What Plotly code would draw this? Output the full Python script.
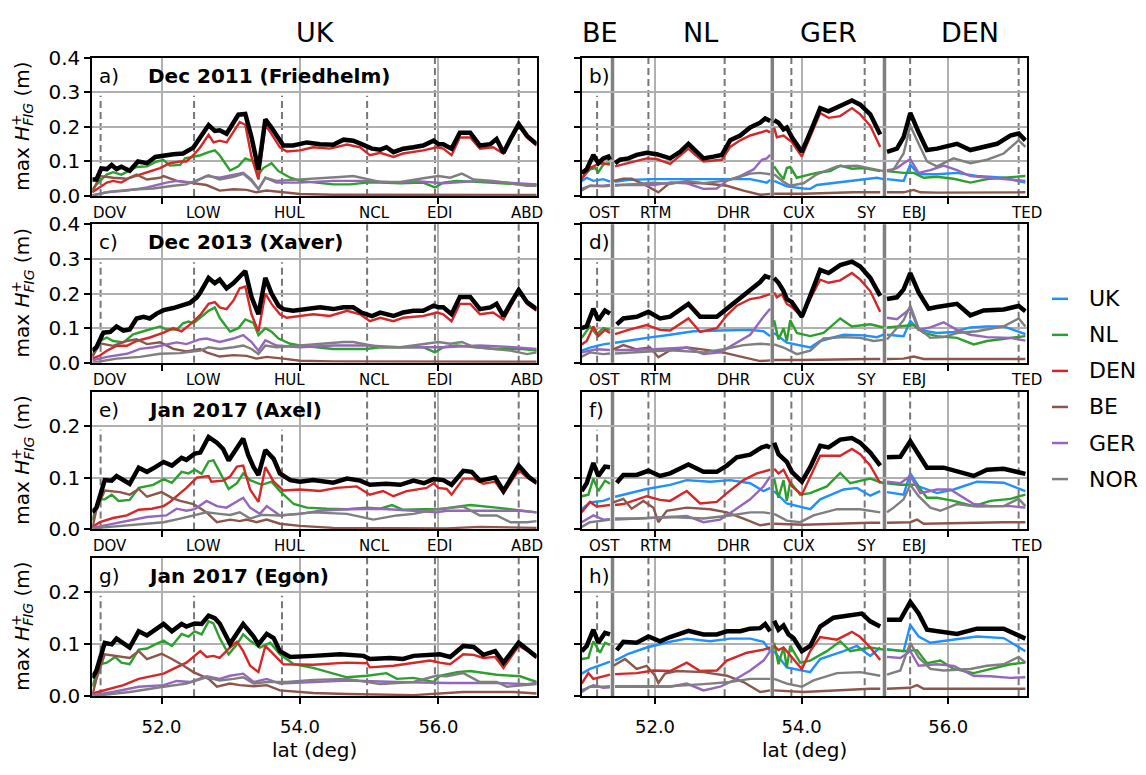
import plotly.graph_objects as go

W, H = 1146, 775

# ---------------------------------------------------------------- styling
COLORS = {
    "UK": "#1e90ff", "NL": "#2ca02c", "DEN": "#d62728",
    "BE": "#8c564b", "GER": "#9467bd", "NOR": "#7f7f7f",
}
LEGEND_ORDER = ["UK", "NL", "DEN", "BE", "GER", "NOR"]
FONT = "DejaVu Sans"

# ---------------------------------------------------------------- stations / regions
UK_STATIONS = ["DOV", "LOW", "HUL", "NCL", "EDI", "ABD"]
UK_STATION_LAT = [51.12, 52.47, 53.74, 54.97, 55.95, 57.16]
EU_STATIONS = ["OST", "RTM", "DHR", "CUX", "SY", "EBJ", "TED"]
EU_STATION_LAT = [51.21, 51.91, 52.95, 53.86, 54.86, 55.48, 56.96]
REGION_BOUNDS = [51.42, 53.60, 55.13]

X_TICKS = [52.0, 54.0, 56.0]
Y_TICKS_TALL = [0.0, 0.1, 0.2, 0.3, 0.4]
Y_TICKS_SHORT = [0.0, 0.1, 0.2]

# ---------------------------------------------------------------- a) Dec 2011, UK coast
A_TOTAL = [(51.00, 0.048), (51.06, 0.048), (51.13, 0.080), (51.21, 0.078), (51.28, 0.090), (51.35, 0.078),
           (51.42, 0.085), (51.54, 0.073), (51.66, 0.100), (51.79, 0.095), (51.91, 0.113), (52.03, 0.118),
           (52.17, 0.121), (52.31, 0.123), (52.46, 0.140), (52.56, 0.170), (52.68, 0.205), (52.77, 0.188),
           (52.84, 0.190), (52.94, 0.180), (53.04, 0.210), (53.11, 0.235), (53.21, 0.237), (53.30, 0.170),
           (53.40, 0.076), (53.50, 0.222), (53.59, 0.197), (53.69, 0.165), (53.76, 0.146), (53.90, 0.146),
           (54.10, 0.155), (54.29, 0.150), (54.48, 0.148), (54.63, 0.163), (54.77, 0.160), (54.89, 0.150),
           (55.04, 0.137), (55.16, 0.134), (55.25, 0.141), (55.35, 0.127), (55.49, 0.137), (55.64, 0.141),
           (55.78, 0.146), (55.93, 0.160), (56.00, 0.150), (56.07, 0.150), (56.19, 0.137), (56.31, 0.183),
           (56.46, 0.183), (56.60, 0.146), (56.75, 0.150), (56.84, 0.165), (56.94, 0.125), (57.04, 0.165),
           (57.16, 0.208), (57.28, 0.174), (57.42, 0.150)]
A_DEN = [(51.00, 0.011), (51.11, 0.025), (51.21, 0.039), (51.30, 0.044), (51.42, 0.039), (51.54, 0.053),
         (51.69, 0.062), (51.83, 0.072), (51.98, 0.081), (52.12, 0.095), (52.27, 0.100), (52.36, 0.100),
         (52.46, 0.118), (52.56, 0.141), (52.68, 0.177), (52.75, 0.155), (52.84, 0.160), (52.94, 0.155),
         (53.04, 0.188), (53.13, 0.214), (53.21, 0.206), (53.30, 0.113), (53.40, 0.048), (53.50, 0.206),
         (53.59, 0.179), (53.71, 0.141), (53.81, 0.129), (54.00, 0.132), (54.19, 0.141), (54.43, 0.137),
         (54.68, 0.149), (54.87, 0.141), (55.01, 0.118), (55.16, 0.125), (55.35, 0.113), (55.49, 0.123),
         (55.78, 0.132), (55.98, 0.141), (56.07, 0.137), (56.19, 0.118), (56.31, 0.169), (56.46, 0.169),
         (56.60, 0.137), (56.79, 0.141), (56.94, 0.123), (57.16, 0.202), (57.28, 0.169), (57.42, 0.146)]
A_NL = [(51.00, 0.020), (51.11, 0.044), (51.21, 0.062), (51.30, 0.069), (51.42, 0.062), (51.54, 0.074),
        (51.64, 0.084), (51.79, 0.086), (51.93, 0.100), (52.03, 0.104), (52.12, 0.088), (52.27, 0.090),
        (52.34, 0.109), (52.44, 0.113), (52.56, 0.118), (52.68, 0.127), (52.77, 0.132), (52.84, 0.118),
        (52.99, 0.074), (53.11, 0.086), (53.21, 0.109), (53.33, 0.100), (53.40, 0.062), (53.47, 0.081),
        (53.59, 0.095), (53.69, 0.072), (53.86, 0.053), (54.00, 0.044), (54.24, 0.039), (54.48, 0.034),
        (54.72, 0.034), (54.96, 0.039), (55.16, 0.039), (55.45, 0.037), (55.78, 0.039), (55.95, 0.025),
        (56.07, 0.039), (56.26, 0.044), (56.55, 0.041), (56.84, 0.037), (57.18, 0.034), (57.42, 0.034)]
A_GER = [(51.00, 0.002), (51.21, 0.011), (51.50, 0.016), (51.79, 0.025), (52.07, 0.039), (52.22, 0.044),
         (52.46, 0.039), (52.65, 0.058), (52.84, 0.053), (53.04, 0.060), (53.18, 0.067), (53.30, 0.048),
         (53.40, 0.020), (53.50, 0.053), (53.66, 0.039), (54.00, 0.039), (54.48, 0.044), (54.96, 0.044),
         (55.45, 0.039), (55.64, 0.044), (56.07, 0.037), (56.60, 0.044), (57.08, 0.037), (57.42, 0.034)]
A_NOR = [(51.00, 0.002), (51.26, 0.013), (51.59, 0.019), (51.88, 0.022), (52.17, 0.030), (52.36, 0.034),
         (52.56, 0.050), (52.68, 0.060), (52.84, 0.048), (53.04, 0.056), (53.18, 0.064), (53.30, 0.044),
         (53.40, 0.020), (53.50, 0.053), (53.66, 0.044), (54.00, 0.048), (54.29, 0.050), (54.63, 0.056),
         (54.77, 0.058), (55.01, 0.048), (55.16, 0.041), (55.45, 0.041), (55.64, 0.048), (55.83, 0.053),
         (56.00, 0.058), (56.17, 0.053), (56.34, 0.065), (56.51, 0.048), (56.79, 0.044), (57.04, 0.037),
         (57.28, 0.030), (57.42, 0.030)]
A_BE = [(51.00, 0.011), (51.11, 0.058), (51.30, 0.053), (51.50, 0.050), (51.64, 0.062), (51.79, 0.048),
        (51.98, 0.053), (52.03, 0.058), (52.22, 0.044), (52.46, 0.037), (52.65, 0.032), (52.84, 0.016),
        (53.04, 0.020), (53.23, 0.018), (53.37, 0.011), (53.52, 0.016), (53.76, 0.011), (54.00, 0.006),
        (54.48, 0.004), (55.45, 0.003), (57.42, 0.003)]

# ---------------------------------------------------------------- c) Dec 2013, UK coast
C_TOTAL = [(51.00, 0.035), (51.06, 0.045), (51.16, 0.087), (51.26, 0.089), (51.35, 0.105), (51.45, 0.093),
           (51.54, 0.096), (51.64, 0.128), (51.74, 0.133), (51.83, 0.128), (51.93, 0.142), (52.03, 0.152),
           (52.17, 0.158), (52.31, 0.166), (52.41, 0.173), (52.51, 0.189), (52.56, 0.203), (52.68, 0.245),
           (52.77, 0.230), (52.84, 0.240), (52.94, 0.215), (53.04, 0.230), (53.13, 0.250), (53.21, 0.265),
           (53.30, 0.190), (53.40, 0.140), (53.50, 0.245), (53.59, 0.200), (53.69, 0.165), (53.76, 0.155),
           (53.90, 0.150), (54.10, 0.155), (54.29, 0.160), (54.48, 0.155), (54.63, 0.160), (54.77, 0.160),
           (54.89, 0.145), (55.04, 0.135), (55.16, 0.145), (55.35, 0.135), (55.49, 0.145), (55.64, 0.150),
           (55.78, 0.150), (55.93, 0.165), (56.00, 0.160), (56.07, 0.160), (56.19, 0.140), (56.31, 0.190),
           (56.46, 0.190), (56.60, 0.155), (56.75, 0.160), (56.84, 0.170), (56.94, 0.135), (57.04, 0.170),
           (57.16, 0.210), (57.28, 0.175), (57.42, 0.155)]
C_DEN = [(51.00, 0.012), (51.11, 0.021), (51.21, 0.035), (51.35, 0.049), (51.50, 0.049), (51.64, 0.063),
         (51.83, 0.073), (52.03, 0.087), (52.17, 0.100), (52.29, 0.091), (52.41, 0.110), (52.56, 0.138),
         (52.68, 0.170), (52.77, 0.175), (52.84, 0.160), (52.94, 0.155), (53.04, 0.180), (53.13, 0.215),
         (53.21, 0.220), (53.30, 0.140), (53.40, 0.090), (53.50, 0.200), (53.59, 0.170), (53.71, 0.140),
         (53.81, 0.130), (54.00, 0.135), (54.19, 0.140), (54.43, 0.135), (54.68, 0.150), (54.87, 0.140),
         (55.01, 0.120), (55.16, 0.130), (55.35, 0.120), (55.49, 0.130), (55.78, 0.135), (55.98, 0.145),
         (56.07, 0.140), (56.19, 0.120), (56.31, 0.170), (56.46, 0.170), (56.60, 0.140), (56.79, 0.145),
         (56.94, 0.125), (57.16, 0.205), (57.28, 0.170), (57.42, 0.150)]
C_NL = [(51.00, 0.021), (51.11, 0.063), (51.21, 0.073), (51.30, 0.063), (51.45, 0.059), (51.59, 0.082),
        (51.74, 0.091), (51.88, 0.100), (51.98, 0.105), (52.07, 0.096), (52.22, 0.096), (52.31, 0.114),
        (52.39, 0.119), (52.46, 0.114), (52.56, 0.130), (52.68, 0.150), (52.77, 0.160), (52.84, 0.130),
        (52.99, 0.090), (53.11, 0.100), (53.21, 0.125), (53.33, 0.115), (53.40, 0.080), (53.50, 0.100),
        (53.59, 0.090), (53.69, 0.070), (53.86, 0.055), (54.00, 0.050), (54.24, 0.045), (54.48, 0.040),
        (54.72, 0.040), (54.96, 0.040), (55.16, 0.045), (55.45, 0.045), (55.78, 0.045), (55.95, 0.030),
        (56.07, 0.045), (56.26, 0.050), (56.55, 0.045), (56.84, 0.040), (57.18, 0.040), (57.42, 0.035)]
C_GER = [(51.00, 0.007), (51.21, 0.017), (51.50, 0.026), (51.69, 0.040), (51.88, 0.045), (52.07, 0.054),
         (52.22, 0.059), (52.36, 0.054), (52.56, 0.068), (52.65, 0.070), (52.84, 0.060), (53.04, 0.070),
         (53.18, 0.080), (53.30, 0.060), (53.40, 0.035), (53.50, 0.065), (53.66, 0.050), (54.00, 0.045),
         (54.48, 0.050), (54.96, 0.050), (55.45, 0.045), (56.07, 0.045), (56.60, 0.050), (57.08, 0.045),
         (57.42, 0.040)]
C_NOR = [(51.00, 0.000), (51.35, 0.012), (51.69, 0.017), (51.98, 0.026), (52.27, 0.028), (52.56, 0.035),
         (52.68, 0.045), (52.84, 0.040), (53.04, 0.045), (53.18, 0.050), (53.30, 0.040), (53.40, 0.025),
         (53.50, 0.050), (53.66, 0.045), (54.00, 0.050), (54.29, 0.055), (54.63, 0.060), (54.77, 0.060),
         (55.01, 0.050), (55.16, 0.045), (55.45, 0.045), (55.64, 0.050), (55.83, 0.055), (56.00, 0.060),
         (56.17, 0.055), (56.34, 0.060), (56.51, 0.045), (56.79, 0.040), (57.04, 0.035), (57.28, 0.025),
         (57.42, 0.030)]
C_BE = [(51.00, 0.017), (51.11, 0.056), (51.30, 0.049), (51.50, 0.063), (51.64, 0.068), (51.79, 0.054),
        (51.98, 0.059), (52.17, 0.040), (52.36, 0.033), (52.56, 0.040), (52.65, 0.030), (52.84, 0.018),
        (53.04, 0.022), (53.23, 0.020), (53.37, 0.012), (53.52, 0.017), (53.76, 0.012), (54.00, 0.006),
        (54.48, 0.004), (55.45, 0.003), (57.42, 0.003)]

# ---------------------------------------------------------------- e) Jan 2017 (Axel), UK coast
E_TOTAL = [(51.00, 0.033), (51.06, 0.042), (51.18, 0.095), (51.28, 0.094), (51.35, 0.103), (51.45, 0.095),
           (51.54, 0.088), (51.67, 0.119), (51.79, 0.111), (51.91, 0.120), (52.03, 0.130), (52.15, 0.123),
           (52.29, 0.138), (52.36, 0.134), (52.48, 0.146), (52.56, 0.148), (52.68, 0.178), (52.80, 0.167),
           (52.89, 0.155), (52.97, 0.133), (53.09, 0.155), (53.18, 0.175), (53.25, 0.144), (53.33, 0.120),
           (53.40, 0.105), (53.50, 0.153), (53.62, 0.136), (53.71, 0.108), (53.86, 0.095), (54.00, 0.092),
           (54.19, 0.095), (54.48, 0.090), (54.68, 0.098), (54.87, 0.094), (55.01, 0.086), (55.25, 0.088),
           (55.45, 0.086), (55.64, 0.094), (55.79, 0.089), (55.93, 0.097), (56.07, 0.095), (56.19, 0.086),
           (56.36, 0.113), (56.48, 0.111), (56.60, 0.094), (56.82, 0.100), (56.94, 0.074), (57.16, 0.123),
           (57.30, 0.102), (57.42, 0.090)]
E_DEN = [(51.00, 0.005), (51.11, 0.014), (51.30, 0.022), (51.50, 0.027), (51.67, 0.038), (51.86, 0.040),
         (52.03, 0.045), (52.12, 0.053), (52.27, 0.070), (52.36, 0.080), (52.51, 0.100), (52.68, 0.103),
         (52.72, 0.092), (52.89, 0.094), (52.99, 0.102), (53.09, 0.121), (53.18, 0.123), (53.28, 0.077),
         (53.40, 0.053), (53.50, 0.120), (53.62, 0.092), (53.76, 0.075), (54.00, 0.077), (54.29, 0.074),
         (54.53, 0.080), (54.82, 0.083), (55.01, 0.067), (55.20, 0.074), (55.35, 0.064), (55.54, 0.074),
         (55.83, 0.080), (55.93, 0.089), (56.00, 0.080), (56.12, 0.078), (56.19, 0.067), (56.36, 0.098),
         (56.51, 0.098), (56.65, 0.088), (56.82, 0.092), (56.94, 0.070), (57.16, 0.114), (57.30, 0.098),
         (57.42, 0.088)]
E_NL = [(51.00, 0.017), (51.09, 0.058), (51.18, 0.058), (51.28, 0.067), (51.38, 0.055), (51.54, 0.057),
        (51.67, 0.080), (51.88, 0.086), (52.03, 0.097), (52.15, 0.090), (52.29, 0.111), (52.39, 0.108),
        (52.48, 0.115), (52.58, 0.107), (52.68, 0.131), (52.75, 0.133), (52.84, 0.111), (52.97, 0.078),
        (53.09, 0.089), (53.18, 0.108), (53.28, 0.095), (53.45, 0.086), (53.59, 0.092), (53.71, 0.074),
        (53.91, 0.049), (54.10, 0.042), (54.39, 0.040), (54.68, 0.039), (54.97, 0.042), (55.16, 0.040),
        (55.33, 0.047), (55.49, 0.038), (55.79, 0.039), (56.02, 0.039), (56.27, 0.044), (56.46, 0.047),
        (56.84, 0.042), (57.18, 0.037), (57.42, 0.033)]
E_BE = [(51.00, 0.002), (51.06, 0.039), (51.18, 0.075), (51.40, 0.072), (51.54, 0.067), (51.67, 0.078),
        (51.79, 0.063), (52.00, 0.072), (52.15, 0.061), (52.27, 0.055), (52.46, 0.049), (52.65, 0.033),
        (52.80, 0.014), (52.99, 0.019), (53.13, 0.016), (53.23, 0.019), (53.37, 0.014), (53.52, 0.019),
        (53.71, 0.011), (54.00, 0.007), (54.48, 0.003), (55.16, 0.002), (56.12, 0.002), (56.60, 0.005),
        (57.42, 0.003)]
E_GER = [(51.00, 0.003), (51.30, 0.011), (51.54, 0.016), (51.79, 0.024), (52.07, 0.027), (52.22, 0.040),
         (52.36, 0.036), (52.48, 0.039), (52.65, 0.055), (52.80, 0.045), (52.94, 0.042), (53.18, 0.061),
         (53.28, 0.042), (53.42, 0.030), (53.52, 0.045), (53.71, 0.027), (54.00, 0.030), (54.29, 0.036),
         (54.68, 0.039), (55.16, 0.040), (55.64, 0.036), (55.97, 0.033), (56.12, 0.036), (56.60, 0.036),
         (57.18, 0.036), (57.42, 0.033)]
E_NOR = [(51.00, 0.002), (51.54, 0.009), (52.03, 0.014), (52.27, 0.021), (52.51, 0.028), (52.65, 0.033),
         (52.84, 0.030), (52.99, 0.028), (53.13, 0.033), (53.28, 0.021), (53.45, 0.028), (53.71, 0.027),
         (54.19, 0.033), (54.68, 0.030), (55.06, 0.019), (55.40, 0.027), (55.64, 0.030), (55.97, 0.039),
         (56.22, 0.042), (56.36, 0.044), (56.60, 0.027), (56.84, 0.027), (57.04, 0.014), (57.28, 0.014),
         (57.42, 0.016)]

# ---------------------------------------------------------------- g) Jan 2017 (Egon), UK coast
G_TOTAL = [(51.00, 0.035), (51.06, 0.049), (51.18, 0.102), (51.28, 0.099), (51.35, 0.110), (51.45, 0.102),
           (51.54, 0.093), (51.67, 0.124), (51.79, 0.116), (51.91, 0.127), (52.03, 0.138), (52.15, 0.124),
           (52.29, 0.138), (52.36, 0.133), (52.48, 0.139), (52.58, 0.138), (52.68, 0.154), (52.77, 0.149),
           (52.84, 0.139), (52.99, 0.100), (53.18, 0.138), (53.33, 0.114), (53.40, 0.099), (53.52, 0.119),
           (53.62, 0.111), (53.71, 0.086), (53.86, 0.075), (54.19, 0.077), (54.58, 0.080), (54.92, 0.077),
           (55.01, 0.071), (55.30, 0.073), (55.49, 0.071), (55.64, 0.077), (55.88, 0.079), (56.02, 0.080),
           (56.17, 0.075), (56.36, 0.096), (56.51, 0.094), (56.65, 0.079), (56.82, 0.086), (56.94, 0.064),
           (57.16, 0.102), (57.30, 0.086), (57.42, 0.075)]
G_NL = [(51.00, 0.018), (51.11, 0.061), (51.21, 0.064), (51.33, 0.075), (51.42, 0.064), (51.54, 0.061),
        (51.67, 0.089), (51.79, 0.091), (51.91, 0.099), (52.03, 0.106), (52.15, 0.096), (52.29, 0.119),
        (52.39, 0.114), (52.48, 0.124), (52.58, 0.118), (52.68, 0.143), (52.75, 0.139), (52.84, 0.111),
        (52.97, 0.080), (53.09, 0.099), (53.18, 0.118), (53.28, 0.106), (53.42, 0.093), (53.57, 0.102),
        (53.71, 0.080), (53.91, 0.061), (54.19, 0.054), (54.68, 0.036), (54.97, 0.039), (55.25, 0.044),
        (55.40, 0.033), (55.64, 0.035), (55.93, 0.027), (56.02, 0.039), (56.27, 0.046), (56.46, 0.048),
        (56.84, 0.041), (57.18, 0.038), (57.42, 0.027)]
G_DEN = [(51.00, 0.005), (51.21, 0.013), (51.45, 0.021), (51.67, 0.033), (51.88, 0.038), (52.03, 0.043),
         (52.17, 0.052), (52.36, 0.064), (52.56, 0.086), (52.65, 0.075), (52.75, 0.077), (52.84, 0.073),
         (52.99, 0.093), (53.09, 0.104), (53.18, 0.086), (53.28, 0.058), (53.40, 0.046), (53.50, 0.096),
         (53.62, 0.080), (53.76, 0.061), (54.19, 0.060), (54.68, 0.064), (54.97, 0.063), (55.01, 0.055),
         (55.35, 0.058), (55.64, 0.063), (55.88, 0.068), (56.02, 0.064), (56.17, 0.061), (56.36, 0.080),
         (56.51, 0.079), (56.65, 0.073), (56.82, 0.075), (56.94, 0.054), (57.16, 0.096), (57.30, 0.086),
         (57.42, 0.073)]
G_BE = [(51.00, 0.002), (51.06, 0.033), (51.18, 0.080), (51.40, 0.075), (51.54, 0.073), (51.67, 0.086),
        (51.79, 0.071), (52.00, 0.081), (52.15, 0.071), (52.32, 0.058), (52.46, 0.046), (52.68, 0.033),
        (52.80, 0.018), (52.99, 0.024), (53.13, 0.021), (53.33, 0.019), (53.52, 0.021), (53.71, 0.011),
        (54.19, 0.006), (54.68, 0.004), (55.64, 0.002), (56.36, 0.008), (57.09, 0.008), (57.42, 0.005)]
G_GER = [(51.00, 0.002), (51.30, 0.008), (51.67, 0.018), (52.03, 0.021), (52.22, 0.029), (52.41, 0.027),
         (52.65, 0.038), (52.84, 0.033), (52.99, 0.039), (53.18, 0.043), (53.33, 0.027), (53.52, 0.033),
         (53.71, 0.024), (54.19, 0.027), (54.68, 0.030), (55.40, 0.027), (56.12, 0.025), (56.84, 0.025),
         (57.28, 0.023), (57.42, 0.025)]
G_NOR = [(51.00, 0.000), (51.54, 0.008), (52.03, 0.018), (52.36, 0.024), (52.65, 0.036), (52.84, 0.030),
         (53.04, 0.033), (53.18, 0.036), (53.33, 0.024), (53.52, 0.027), (53.81, 0.027), (54.19, 0.031),
         (54.68, 0.033), (55.16, 0.023), (55.64, 0.027), (55.97, 0.039), (56.12, 0.038), (56.36, 0.044),
         (56.60, 0.027), (56.84, 0.027), (56.99, 0.018), (57.28, 0.021), (57.42, 0.023)]

# ---------------------------------------------------------------- b) Dec 2011, continental coast (BE | NL | GER | DEN)
B_TOTAL = [
    [(51.000, 0.067), (51.068, 0.077), (51.159, 0.119), (51.227, 0.095), (51.295, 0.109), (51.364, 0.114), (51.386, 0.105)],
    [(51.455, 0.095), (51.523, 0.105), (51.637, 0.109), (51.750, 0.119), (51.887, 0.125), (52.023, 0.121), (52.206, 0.109),
     (52.342, 0.128), (52.456, 0.151), (52.547, 0.133), (52.661, 0.109), (52.797, 0.114), (52.911, 0.119), (53.025, 0.161),
     (53.162, 0.175), (53.298, 0.198), (53.434, 0.212), (53.503, 0.224), (53.571, 0.217)],
    [(53.625, 0.219), (53.684, 0.212), (53.753, 0.193), (53.798, 0.198), (53.867, 0.170), (54.003, 0.128), (54.117, 0.184),
     (54.253, 0.254), (54.367, 0.245), (54.526, 0.259), (54.686, 0.276), (54.799, 0.264), (54.936, 0.236), (55.072, 0.178)],
    [(55.164, 0.128), (55.300, 0.137), (55.391, 0.170), (55.482, 0.240), (55.596, 0.184), (55.710, 0.133), (55.846, 0.137),
     (56.119, 0.151), (56.301, 0.133), (56.483, 0.142), (56.666, 0.151), (56.847, 0.175), (56.961, 0.181), (57.052, 0.161)],
]
B_DEN = [
    [(51.000, 0.049), (51.113, 0.081), (51.227, 0.093), (51.295, 0.095), (51.386, 0.091)],
    [(51.455, 0.086), (51.637, 0.095), (51.887, 0.109), (52.023, 0.107), (52.206, 0.093), (52.456, 0.137), (52.547, 0.119),
     (52.661, 0.100), (52.911, 0.105), (53.025, 0.142), (53.162, 0.161), (53.298, 0.175), (53.434, 0.184), (53.525, 0.189),
     (53.571, 0.184)],
    [(53.625, 0.198), (53.662, 0.170), (53.753, 0.175), (53.867, 0.156), (54.003, 0.114), (54.117, 0.170), (54.253, 0.240),
     (54.367, 0.226), (54.526, 0.231), (54.686, 0.254), (54.799, 0.236), (54.936, 0.203), (55.072, 0.142)],
]
B_NL = [
    [(51.000, 0.053), (51.113, 0.077), (51.182, 0.081), (51.227, 0.069), (51.295, 0.091), (51.364, 0.095), (51.386, 0.093)],
    [(53.625, 0.086), (53.684, 0.067), (53.753, 0.049), (53.798, 0.081), (53.844, 0.084), (53.935, 0.053), (54.117, 0.063),
     (54.253, 0.069), (54.390, 0.072), (54.526, 0.088), (54.686, 0.079), (54.845, 0.081), (55.072, 0.072)],
    [(55.164, 0.072), (55.391, 0.067), (55.528, 0.067), (55.664, 0.053), (55.846, 0.056), (56.073, 0.050), (56.301, 0.039),
     (56.529, 0.049), (56.756, 0.053), (57.052, 0.058)],
]
B_UK = [
    [(51.000, 0.044), (51.068, 0.053), (51.159, 0.044), (51.295, 0.049), (51.386, 0.042)],
    [(51.455, 0.041), (51.637, 0.047), (51.978, 0.049), (52.433, 0.050), (52.888, 0.049), (53.298, 0.049), (53.434, 0.044),
     (53.525, 0.039), (53.571, 0.047)],
    [(53.625, 0.044), (53.798, 0.028), (54.026, 0.022), (54.117, 0.021), (54.208, 0.032), (54.481, 0.039), (54.845, 0.047),
     (55.027, 0.053), (55.118, 0.049)],
    [(55.164, 0.049), (55.391, 0.044), (55.482, 0.091), (55.596, 0.063), (55.846, 0.063), (56.119, 0.067), (56.392, 0.058),
     (56.756, 0.053), (57.052, 0.039)],
]
B_GER = [
    [(51.000, 0.021), (51.113, 0.030), (51.295, 0.030), (51.386, 0.032)],
    [(51.455, 0.032), (51.750, 0.032), (51.978, 0.032), (52.206, 0.039), (52.433, 0.037), (52.661, 0.021), (52.843, 0.022),
     (52.980, 0.044), (53.162, 0.058), (53.344, 0.077), (53.457, 0.105), (53.525, 0.109), (53.571, 0.119)],
    [(55.164, 0.072), (55.300, 0.081), (55.391, 0.095), (55.482, 0.107), (55.596, 0.067), (55.755, 0.075), (55.937, 0.088),
     (56.119, 0.075), (56.301, 0.058), (56.575, 0.053), (56.847, 0.049), (57.052, 0.044)],
]
B_NOR = [
    [(51.000, 0.016), (51.113, 0.030), (51.295, 0.028), (51.386, 0.030)],
    [(51.455, 0.030), (51.523, 0.032), (51.750, 0.035), (51.978, 0.039), (52.206, 0.035), (52.433, 0.044), (52.661, 0.037),
     (52.934, 0.044), (53.116, 0.053), (53.298, 0.065), (53.434, 0.067), (53.571, 0.063)],
    [(53.625, 0.063), (53.753, 0.041), (53.844, 0.030), (54.026, 0.037), (54.208, 0.063), (54.481, 0.086), (54.754, 0.088),
     (54.936, 0.081), (55.118, 0.072)],
    [(55.164, 0.075), (55.255, 0.077), (55.391, 0.123), (55.482, 0.203), (55.596, 0.151), (55.710, 0.100), (55.846, 0.086),
     (56.073, 0.109), (56.301, 0.095), (56.529, 0.105), (56.756, 0.123), (56.961, 0.161), (57.052, 0.142)],
]
B_BE = [
    [(51.432, 0.044), (51.568, 0.050), (51.682, 0.050), (51.841, 0.035), (52.046, 0.011), (52.206, 0.039), (52.661, 0.037),
     (52.980, 0.030), (53.207, 0.016), (53.434, 0.004), (53.571, 0.006)],
    [(53.625, 0.007), (54.026, 0.007), (54.708, 0.011), (55.072, 0.011)],
    [(55.164, 0.011), (55.391, 0.011), (55.528, 0.018), (55.619, 0.011), (55.846, 0.010), (57.052, 0.011)],
]

# ---------------------------------------------------------------- d) Dec 2013, continental coast
D_TOTAL = [
    [(51.000, 0.100), (51.068, 0.105), (51.159, 0.156), (51.227, 0.123), (51.318, 0.151), (51.386, 0.142)],
    [(51.477, 0.111), (51.568, 0.128), (51.750, 0.133), (51.910, 0.147), (52.069, 0.128), (52.206, 0.133), (52.456, 0.170),
     (52.615, 0.133), (52.843, 0.133), (52.980, 0.156), (53.116, 0.179), (53.298, 0.207), (53.434, 0.233), (53.503, 0.250),
     (53.571, 0.245)],
    [(53.625, 0.245), (53.684, 0.231), (53.753, 0.207), (53.798, 0.184), (53.867, 0.175), (54.003, 0.133), (54.117, 0.193),
     (54.253, 0.268), (54.367, 0.259), (54.526, 0.282), (54.686, 0.292), (54.799, 0.278), (54.936, 0.245), (55.072, 0.193)],
    [(55.164, 0.184), (55.300, 0.189), (55.391, 0.212), (55.482, 0.259), (55.596, 0.203), (55.733, 0.156), (55.846, 0.161),
     (56.119, 0.170), (56.301, 0.137), (56.483, 0.151), (56.756, 0.154), (56.961, 0.164), (57.052, 0.149)],
]
D_DEN = [
    [(51.000, 0.053), (51.068, 0.063), (51.159, 0.105), (51.227, 0.077), (51.318, 0.095), (51.386, 0.086)],
    [(51.455, 0.083), (51.637, 0.095), (51.887, 0.109), (52.069, 0.095), (52.206, 0.093), (52.456, 0.128), (52.615, 0.089),
     (52.843, 0.100), (52.980, 0.137), (53.116, 0.165), (53.298, 0.184), (53.434, 0.189), (53.571, 0.198)],
    [(53.625, 0.203), (53.662, 0.189), (53.730, 0.198), (53.798, 0.170), (53.867, 0.161), (54.003, 0.133), (54.117, 0.184),
     (54.253, 0.240), (54.367, 0.231), (54.526, 0.238), (54.686, 0.259), (54.799, 0.240), (54.936, 0.207), (55.072, 0.147)],
]
D_NL = [
    [(51.000, 0.072), (51.113, 0.105), (51.204, 0.081), (51.295, 0.100), (51.386, 0.095)],
    [(53.625, 0.123), (53.684, 0.067), (53.753, 0.100), (53.798, 0.063), (53.844, 0.123), (53.935, 0.086), (54.117, 0.077),
     (54.299, 0.086), (54.526, 0.128), (54.686, 0.105), (54.936, 0.111), (55.118, 0.102)],
    [(55.164, 0.102), (55.346, 0.105), (55.528, 0.109), (55.664, 0.086), (55.846, 0.077), (56.119, 0.072), (56.347, 0.053),
     (56.529, 0.063), (56.847, 0.072), (57.052, 0.077)],
]
D_UK = [
    [(51.000, 0.035), (51.113, 0.044), (51.295, 0.053), (51.386, 0.056)],
    [(51.455, 0.058), (51.637, 0.063), (51.887, 0.072), (52.206, 0.081), (52.524, 0.091), (52.888, 0.093), (53.298, 0.095),
     (53.480, 0.091), (53.571, 0.077)],
    [(53.625, 0.086), (53.798, 0.058), (54.117, 0.044), (54.253, 0.063), (54.572, 0.081), (54.845, 0.079), (55.027, 0.074),
     (55.118, 0.081)],
    [(55.164, 0.081), (55.391, 0.077), (55.482, 0.121), (55.596, 0.095), (55.846, 0.086), (56.073, 0.089), (56.301, 0.102),
     (56.529, 0.105), (56.756, 0.105), (57.052, 0.083)],
]
D_GER = [
    [(51.000, 0.030), (51.204, 0.039), (51.386, 0.037)],
    [(51.455, 0.036), (51.978, 0.039), (52.433, 0.044), (52.661, 0.025), (52.888, 0.030), (53.071, 0.053), (53.298, 0.081),
     (53.480, 0.133), (53.571, 0.156)],
    [(55.164, 0.130), (55.300, 0.126), (55.482, 0.156), (55.596, 0.095), (55.755, 0.102), (55.937, 0.117), (56.119, 0.095),
     (56.301, 0.081), (56.529, 0.074), (56.847, 0.072), (57.052, 0.064)],
]
D_NOR = [
    [(51.000, 0.018), (51.113, 0.030), (51.295, 0.025), (51.386, 0.027)],
    [(51.455, 0.027), (51.750, 0.030), (52.206, 0.036), (52.661, 0.030), (52.934, 0.039), (53.207, 0.051), (53.434, 0.055),
     (53.571, 0.053)],
    [(53.625, 0.053), (53.753, 0.044), (53.935, 0.025), (54.117, 0.035), (54.299, 0.070), (54.572, 0.074), (54.799, 0.072),
     (54.981, 0.063), (55.118, 0.066)],
    [(55.164, 0.067), (55.391, 0.123), (55.482, 0.165), (55.596, 0.100), (55.755, 0.072), (55.937, 0.074), (56.119, 0.086),
     (56.392, 0.091), (56.756, 0.105), (56.961, 0.128), (57.052, 0.105)],
]
D_BE = [
    [(51.432, 0.039), (51.568, 0.051), (51.750, 0.039), (51.932, 0.044), (52.046, 0.016), (52.206, 0.036), (52.433, 0.044),
     (52.752, 0.036), (52.980, 0.027), (53.207, 0.016), (53.434, 0.005), (53.571, 0.007)],
    [(53.625, 0.008), (54.026, 0.008), (54.936, 0.011), (55.072, 0.011)],
    [(55.164, 0.011), (55.391, 0.012), (55.528, 0.018), (55.664, 0.011), (57.052, 0.011)],
]

# ---------------------------------------------------------------- f) Jan 2017 (Axel), continental coast
F_TOTAL = [
    [(51.000, 0.074), (51.068, 0.089), (51.159, 0.128), (51.227, 0.103), (51.318, 0.121), (51.386, 0.120)],
    [(51.477, 0.090), (51.568, 0.105), (51.750, 0.105), (51.910, 0.113), (52.069, 0.103), (52.206, 0.108), (52.456, 0.125),
     (52.661, 0.111), (52.843, 0.111), (52.980, 0.123), (53.116, 0.139), (53.298, 0.144), (53.457, 0.158), (53.525, 0.161),
     (53.571, 0.158)],
    [(53.625, 0.167), (53.684, 0.145), (53.753, 0.136), (53.798, 0.130), (53.867, 0.111), (54.003, 0.092), (54.117, 0.120),
     (54.253, 0.161), (54.367, 0.158), (54.526, 0.173), (54.686, 0.176), (54.799, 0.167), (54.936, 0.148), (55.072, 0.123)],
    [(55.164, 0.139), (55.346, 0.140), (55.482, 0.170), (55.596, 0.145), (55.710, 0.119), (55.937, 0.119), (56.119, 0.111),
     (56.347, 0.103), (56.529, 0.115), (56.756, 0.117), (57.052, 0.107)],
]
F_DEN = [
    [(51.000, 0.033), (51.113, 0.053), (51.204, 0.044), (51.386, 0.047)],
    [(51.455, 0.047), (51.568, 0.049), (51.887, 0.064), (52.069, 0.057), (52.206, 0.055), (52.433, 0.074), (52.615, 0.050),
     (52.843, 0.053), (52.980, 0.070), (53.207, 0.095), (53.389, 0.108), (53.525, 0.113), (53.571, 0.115)],
    [(53.625, 0.117), (53.684, 0.108), (53.753, 0.115), (53.867, 0.083), (54.003, 0.067), (54.117, 0.102), (54.253, 0.142),
     (54.526, 0.142), (54.686, 0.155), (54.799, 0.145), (54.936, 0.123), (55.072, 0.089)],
]
F_NL = [
    [(51.000, 0.064), (51.091, 0.067), (51.159, 0.098), (51.227, 0.074), (51.318, 0.094), (51.386, 0.088)],
    [(53.625, 0.098), (53.684, 0.061), (53.753, 0.095), (53.798, 0.055), (53.844, 0.092), (53.980, 0.067), (54.117, 0.070),
     (54.344, 0.083), (54.526, 0.109), (54.663, 0.089), (54.936, 0.098), (55.118, 0.089)],
    [(55.164, 0.089), (55.346, 0.086), (55.574, 0.086), (55.710, 0.061), (55.846, 0.061), (56.073, 0.055), (56.347, 0.045),
     (56.575, 0.055), (56.847, 0.059), (57.052, 0.067)],
]
F_UK = [
    [(51.000, 0.039), (51.113, 0.052), (51.295, 0.055), (51.386, 0.060)],
    [(51.455, 0.063), (51.637, 0.069), (51.887, 0.078), (52.206, 0.086), (52.433, 0.095), (52.752, 0.092), (53.025, 0.095),
     (53.298, 0.089), (53.480, 0.074), (53.571, 0.080)],
    [(53.625, 0.074), (53.798, 0.050), (54.117, 0.039), (54.253, 0.058), (54.572, 0.077), (54.754, 0.080), (54.936, 0.065),
     (55.072, 0.074)],
    [(55.164, 0.072), (55.391, 0.067), (55.482, 0.108), (55.596, 0.083), (55.846, 0.070), (56.073, 0.077), (56.392, 0.092),
     (56.756, 0.090), (57.052, 0.074)],
]
F_GER = [
    [(51.000, 0.014), (51.159, 0.027), (51.295, 0.019), (51.386, 0.020)],
    [(51.455, 0.021), (51.750, 0.021), (52.206, 0.024), (52.433, 0.026), (52.661, 0.014), (52.888, 0.019), (53.071, 0.036),
     (53.298, 0.058), (53.480, 0.083), (53.571, 0.102)],
    [(55.164, 0.092), (55.346, 0.089), (55.482, 0.103), (55.619, 0.070), (55.846, 0.077), (56.028, 0.077), (56.347, 0.049),
     (56.575, 0.045), (56.847, 0.045), (57.052, 0.042)],
]
F_NOR = [
    [(51.000, 0.005), (51.113, 0.014), (51.295, 0.017), (51.386, 0.019)],
    [(51.455, 0.019), (51.750, 0.021), (52.206, 0.024), (52.661, 0.021), (53.025, 0.027), (53.298, 0.033), (53.480, 0.033),
     (53.571, 0.031)],
    [(53.625, 0.030), (53.798, 0.017), (53.980, 0.014), (54.162, 0.027), (54.481, 0.039), (54.799, 0.039), (55.072, 0.033)],
    [(55.164, 0.033), (55.255, 0.042), (55.391, 0.058), (55.482, 0.086), (55.596, 0.064), (55.755, 0.042), (55.892, 0.036),
     (56.119, 0.049), (56.392, 0.044), (56.756, 0.045), (56.961, 0.059), (57.052, 0.045)],
]
F_BE = [
    [(51.432, 0.052), (51.568, 0.059), (51.682, 0.040), (51.841, 0.055), (51.978, 0.042), (52.046, 0.014), (52.160, 0.036),
     (52.433, 0.042), (52.752, 0.039), (52.980, 0.033), (53.207, 0.021), (53.434, 0.008), (53.571, 0.011)],
    [(53.625, 0.011), (54.026, 0.009), (54.936, 0.013), (55.072, 0.013)],
    [(55.164, 0.013), (55.482, 0.014), (55.574, 0.019), (55.664, 0.011), (56.756, 0.014), (57.052, 0.014)],
]

# ---------------------------------------------------------------- h) Jan 2017 (Egon), continental coast
H_TOTAL = [
    [(51.000, 0.086), (51.068, 0.096), (51.159, 0.127), (51.227, 0.102), (51.318, 0.121), (51.386, 0.118)],
    [(51.477, 0.088), (51.568, 0.104), (51.750, 0.102), (51.910, 0.114), (52.069, 0.105), (52.206, 0.113), (52.456, 0.125),
     (52.661, 0.118), (52.843, 0.118), (52.980, 0.124), (53.162, 0.124), (53.298, 0.129), (53.434, 0.130), (53.503, 0.138),
     (53.571, 0.124)],
    [(53.625, 0.144), (53.684, 0.127), (53.753, 0.135), (53.821, 0.118), (53.889, 0.111), (54.003, 0.086), (54.117, 0.096),
     (54.253, 0.133), (54.435, 0.150), (54.708, 0.156), (54.822, 0.158), (54.936, 0.143), (55.072, 0.133)],
    [(55.164, 0.146), (55.346, 0.146), (55.482, 0.180), (55.596, 0.158), (55.710, 0.127), (55.937, 0.123), (56.119, 0.119),
     (56.392, 0.129), (56.756, 0.129), (57.052, 0.110)],
]
H_DEN = [
    [(51.000, 0.024), (51.091, 0.044), (51.159, 0.033), (51.386, 0.041)],
    [(51.455, 0.042), (51.750, 0.044), (51.978, 0.049), (52.206, 0.048), (52.433, 0.064), (52.615, 0.048), (52.843, 0.049),
     (52.980, 0.068), (53.253, 0.083), (53.480, 0.089), (53.571, 0.093)],
    [(53.625, 0.096), (53.684, 0.088), (53.753, 0.093), (53.867, 0.074), (54.003, 0.052), (54.117, 0.086), (54.253, 0.113),
     (54.481, 0.108), (54.686, 0.123), (54.799, 0.113), (54.936, 0.093), (55.072, 0.069)],
]
H_NL = [
    [(51.000, 0.071), (51.091, 0.073), (51.159, 0.105), (51.250, 0.083), (51.318, 0.102), (51.386, 0.098)],
    [(53.625, 0.102), (53.684, 0.061), (53.753, 0.093), (53.798, 0.055), (53.844, 0.096), (53.980, 0.064), (54.117, 0.068),
     (54.344, 0.086), (54.526, 0.105), (54.663, 0.086), (54.936, 0.093), (55.118, 0.089)],
    [(55.164, 0.089), (55.391, 0.086), (55.574, 0.088), (55.710, 0.063), (55.892, 0.068), (56.073, 0.052), (56.347, 0.044),
     (56.575, 0.052), (56.847, 0.061), (57.052, 0.064)],
]
H_UK = [
    [(51.000, 0.043), (51.113, 0.052), (51.295, 0.061), (51.386, 0.066)],
    [(51.455, 0.068), (51.637, 0.081), (51.887, 0.093), (52.206, 0.104), (52.433, 0.110), (52.752, 0.105), (53.025, 0.110),
     (53.298, 0.110), (53.480, 0.104), (53.571, 0.086)],
    [(53.625, 0.086), (53.798, 0.055), (54.117, 0.046), (54.253, 0.071), (54.572, 0.086), (54.754, 0.096), (54.936, 0.077),
     (55.072, 0.093)],
    [(55.164, 0.090), (55.391, 0.086), (55.482, 0.136), (55.596, 0.114), (55.755, 0.102), (56.073, 0.108), (56.392, 0.114),
     (56.756, 0.111), (57.052, 0.086)],
]
H_GER = [
    [(51.000, 0.011), (51.159, 0.021), (51.295, 0.016), (51.386, 0.017)],
    [(51.455, 0.018), (51.750, 0.018), (52.206, 0.018), (52.433, 0.024), (52.661, 0.011), (52.888, 0.018), (53.071, 0.030),
     (53.298, 0.049), (53.480, 0.068), (53.571, 0.086)],
    [(55.164, 0.075), (55.346, 0.073), (55.482, 0.086), (55.596, 0.058), (55.846, 0.061), (56.073, 0.058), (56.347, 0.039),
     (56.575, 0.038), (56.847, 0.035), (57.052, 0.036)],
]
H_NOR = [
    [(51.000, 0.008), (51.113, 0.018), (51.295, 0.018), (51.386, 0.019)],
    [(51.455, 0.019), (51.750, 0.019), (52.206, 0.019), (52.661, 0.023), (53.025, 0.027), (53.298, 0.033), (53.480, 0.033),
     (53.571, 0.033)],
    [(53.625, 0.033), (53.798, 0.024), (54.003, 0.018), (54.162, 0.030), (54.481, 0.044), (54.799, 0.046), (55.072, 0.039)],
    [(55.164, 0.041), (55.346, 0.049), (55.482, 0.102), (55.596, 0.074), (55.755, 0.052), (55.937, 0.049), (56.301, 0.052),
     (56.529, 0.058), (56.756, 0.061), (56.961, 0.075), (57.052, 0.064)],
]
H_BE = [
    [(51.432, 0.058), (51.591, 0.071), (51.750, 0.052), (51.887, 0.058), (52.000, 0.039), (52.046, 0.025), (52.137, 0.043),
     (52.297, 0.048), (52.661, 0.046), (52.980, 0.039), (53.207, 0.027), (53.434, 0.008), (53.571, 0.011)],
    [(53.625, 0.011), (54.026, 0.008), (54.936, 0.014), (55.072, 0.014)],
    [(55.164, 0.014), (55.482, 0.016), (55.574, 0.021), (55.664, 0.014), (57.052, 0.014)],
]

# ---------------------------------------------------------------- panel layout
PANELS = [
    dict(tag="a)", title="Dec 2011 (Friedhelm)", coast="UK", row=0,
         series=dict(NL=[A_NL], DEN=[A_DEN], BE=[A_BE], GER=[A_GER], NOR=[A_NOR]), total=[A_TOTAL],
         short=["DOV", "LOW", "HUL", "NCL"]),
    dict(tag="b)", title="", coast="EU", row=0,
         series=dict(UK=B_UK, NL=B_NL, DEN=B_DEN, BE=B_BE, GER=B_GER, NOR=B_NOR), total=B_TOTAL, short=["OST"]),
    dict(tag="c)", title="Dec 2013 (Xaver)", coast="UK", row=1,
         series=dict(NL=[C_NL], DEN=[C_DEN], BE=[C_BE], GER=[C_GER], NOR=[C_NOR]), total=[C_TOTAL],
         short=["DOV", "LOW", "HUL"]),
    dict(tag="d)", title="", coast="EU", row=1,
         series=dict(UK=D_UK, NL=D_NL, DEN=D_DEN, BE=D_BE, GER=D_GER, NOR=D_NOR), total=D_TOTAL, short=["OST"]),
    dict(tag="e)", title="Jan 2017 (Axel)", coast="UK", row=2,
         series=dict(NL=[E_NL], DEN=[E_DEN], BE=[E_BE], GER=[E_GER], NOR=[E_NOR]), total=[E_TOTAL],
         short=["DOV", "LOW", "HUL"]),
    dict(tag="f)", title="", coast="EU", row=2,
         series=dict(UK=F_UK, NL=F_NL, DEN=F_DEN, BE=F_BE, GER=F_GER, NOR=F_NOR), total=F_TOTAL, short=["OST"]),
    dict(tag="g)", title="Jan 2017 (Egon)", coast="UK", row=3,
         series=dict(NL=[G_NL], DEN=[G_DEN], BE=[G_BE], GER=[G_GER], NOR=[G_NOR]), total=[G_TOTAL],
         short=["DOV", "LOW", "HUL"]),
    dict(tag="h)", title="", coast="EU", row=3,
         series=dict(UK=H_UK, NL=H_NL, DEN=H_DEN, BE=H_BE, GER=H_GER, NOR=H_NOR), total=H_TOTAL, short=["OST"]),
]

# pixel frame of each plotting area
COL_PX = {"UK": (92.3, 536.7), "EU": (581.7, 1026.7)}
ROW_PX = [(47, 190), (219, 362), (392, 534), (563, 706)]
X_RANGE = {"UK": [51.0, 57.42], "EU": [51.0, 57.07]}
Y_RANGE = [[0, 0.4], [0, 0.4], [0, 0.265], [0, 0.265]]


def flatten(segments):
    xs, ys = [], []
    for k, seg in enumerate(segments):
        if k:
            xs.append(None)
            ys.append(None)
        for lat, val in seg:
            xs.append(lat)
            ys.append(val)
    return xs, ys


fig = go.Figure()
layout = dict(
    width=W, height=H, margin=dict(l=0, r=0, t=0, b=0),
    paper_bgcolor="white", plot_bgcolor="white",
    font=dict(family=FONT, color="black"), showlegend=False,
)
shapes, annotations = [], []

for i, p in enumerate(PANELS):
    n = i + 1
    xref = "x" if n == 1 else f"x{n}"
    yref = "y" if n == 1 else f"y{n}"
    x0p, x1p = COL_PX[p["coast"]]
    y0p, y1p = ROW_PX[p["row"]]
    bottom = p["row"] == 3
    common = dict(showline=True, linecolor="black", linewidth=2, mirror=True,
                  ticks="outside", ticklen=6, tickwidth=1.5, tickcolor="black",
                  showgrid=True, gridcolor="#b0b0b0", gridwidth=1.5, zeroline=False)
    xaxis = dict(domain=[x0p / W, x1p / W], range=X_RANGE[p["coast"]], anchor=yref,
                 tickvals=X_TICKS, showticklabels=bottom,
                 tickfont=dict(size=18, family=FONT, color="black"), **common)
    if bottom:
        xaxis.update(ticktext=[f"{v:.1f}" for v in X_TICKS], ticklabelstandoff=7)
    layout["xaxis" if n == 1 else f"xaxis{n}"] = xaxis
    yt = Y_TICKS_TALL if p["row"] < 2 else Y_TICKS_SHORT
    yaxis = dict(domain=[1 - y1p / H, 1 - y0p / H], range=Y_RANGE[p["row"]], anchor=xref,
                 tickvals=yt, showticklabels=(p["coast"] == "UK"),
                 tickfont=dict(size=20, family=FONT, color="black"), **common)
    if p["coast"] == "UK":
        yaxis.update(ticktext=[f"{v:.1f}" for v in yt])
    layout["yaxis" if n == 1 else f"yaxis{n}"] = yaxis

    # station markers
    names = UK_STATIONS if p["coast"] == "UK" else EU_STATIONS
    lats = UK_STATION_LAT if p["coast"] == "UK" else EU_STATION_LAT
    for name, lat in zip(names, lats):
        top = 0.725 if name in p["short"] else 1.0
        shapes.append(dict(type="line", xref=xref, yref=f"{yref} domain", x0=lat, x1=lat, y0=0, y1=top,
                           line=dict(color="#777777", width=2, dash="7px,4px"), layer="below"))
        if not bottom:
            annotations.append(dict(xref=xref, yref=f"{yref} domain", x=lat, y=0, xanchor="left",
                                    yanchor="middle", xshift=-10, yshift=-17, text=name, showarrow=False,
                                    font=dict(size=15, family=FONT, color="black")))
    if p["coast"] == "EU":
        for b in REGION_BOUNDS:
            shapes.append(dict(type="line", xref=xref, yref=f"{yref} domain", x0=b, x1=b, y0=0, y1=1,
                               line=dict(color="#808080", width=3.5), layer="below"))

    # contributions from each country, then the total on top
    for country in LEGEND_ORDER:
        if country in p["series"]:
            xs, ys = flatten(p["series"][country])
            fig.add_trace(go.Scatter(x=xs, y=ys, mode="lines", xaxis=xref, yaxis=yref, name=country,
                                     line=dict(color=COLORS[country], width=2.4), hoverinfo="skip"))
    xs, ys = flatten(p["total"])
    fig.add_trace(go.Scatter(x=xs, y=ys, mode="lines", xaxis=xref, yaxis=yref, name="total",
                             line=dict(color="black", width=4.5), hoverinfo="skip"))

    # panel tag and event title
    annotations.append(dict(xref=f"{xref} domain", yref=f"{yref} domain", x=0, y=1, xanchor="left",
                            yanchor="middle", xshift=5, yshift=-18, text=p["tag"], showarrow=False,
                            font=dict(size=20, family=FONT, color="black")))
    if p["title"]:
        annotations.append(dict(xref=f"{xref} domain", yref=f"{yref} domain", x=0, y=1, xanchor="left",
                                yanchor="middle", xshift=54, yshift=-18, text=f"<b>{p['title']}</b>",
                                showarrow=False, font=dict(size=20, family=FONT, color="black")))

# y-axis labels, one per row: "max H (m)" with the FIG subscript, and the "+"
# superscript stacked above the subscript
for y0p, y1p in ROW_PX:
    yc = (y0p + y1p) / 2
    annotations.append(dict(xref="paper", yref="paper", x=23 / W, y=1 - yc / H,
                            xanchor="center", yanchor="middle", textangle=-90, showarrow=False,
                            text="max <i>H</i><sub><i>FIG</i></sub> (m)",
                            font=dict(size=20, family=FONT, color="black")))
    annotations.append(dict(xref="paper", yref="paper", x=16 / W, y=1 - (yc - 7) / H,
                            xanchor="center", yanchor="middle", textangle=-90, showarrow=False,
                            text="+", font=dict(size=14, family=FONT, color="black")))

# x-axis labels
for coast in ("UK", "EU"):
    x0p, x1p = COL_PX[coast]
    annotations.append(dict(xref="paper", yref="paper", x=(x0p + x1p) / 2 / W, y=1 - 762 / H,
                            xanchor="center", yanchor="middle", text="lat (deg)", showarrow=False,
                            font=dict(size=20, family=FONT, color="black")))

# column headings
HEAD_PX = [("UK", 315), ("BE", 600), ("NL", 700), ("GER", 828), ("DEN", 970)]
for label, xp in HEAD_PX:
    annotations.append(dict(xref="paper", yref="paper", x=xp / W, y=1 - 21 / H, xanchor="center",
                            yanchor="middle", text=label, showarrow=False,
                            font=dict(size=27, family=FONT, color="black")))

# legend
for k, country in enumerate(LEGEND_ORDER):
    yp = 296 + 37.2 * k
    shapes.append(dict(type="line", xref="paper", yref="paper", x0=1052 / W, x1=1068 / W,
                       y0=1 - yp / H, y1=1 - yp / H, line=dict(color=COLORS[country], width=2.5)))
    annotations.append(dict(xref="paper", yref="paper", x=1087 / W, y=1 - yp / H, xanchor="left",
                            yanchor="middle", text=country, showarrow=False,
                            font=dict(size=22, family=FONT, color="black")))

layout["shapes"] = shapes
layout["annotations"] = annotations
fig.update_layout(**layout)
fig.write_html("out.html")
